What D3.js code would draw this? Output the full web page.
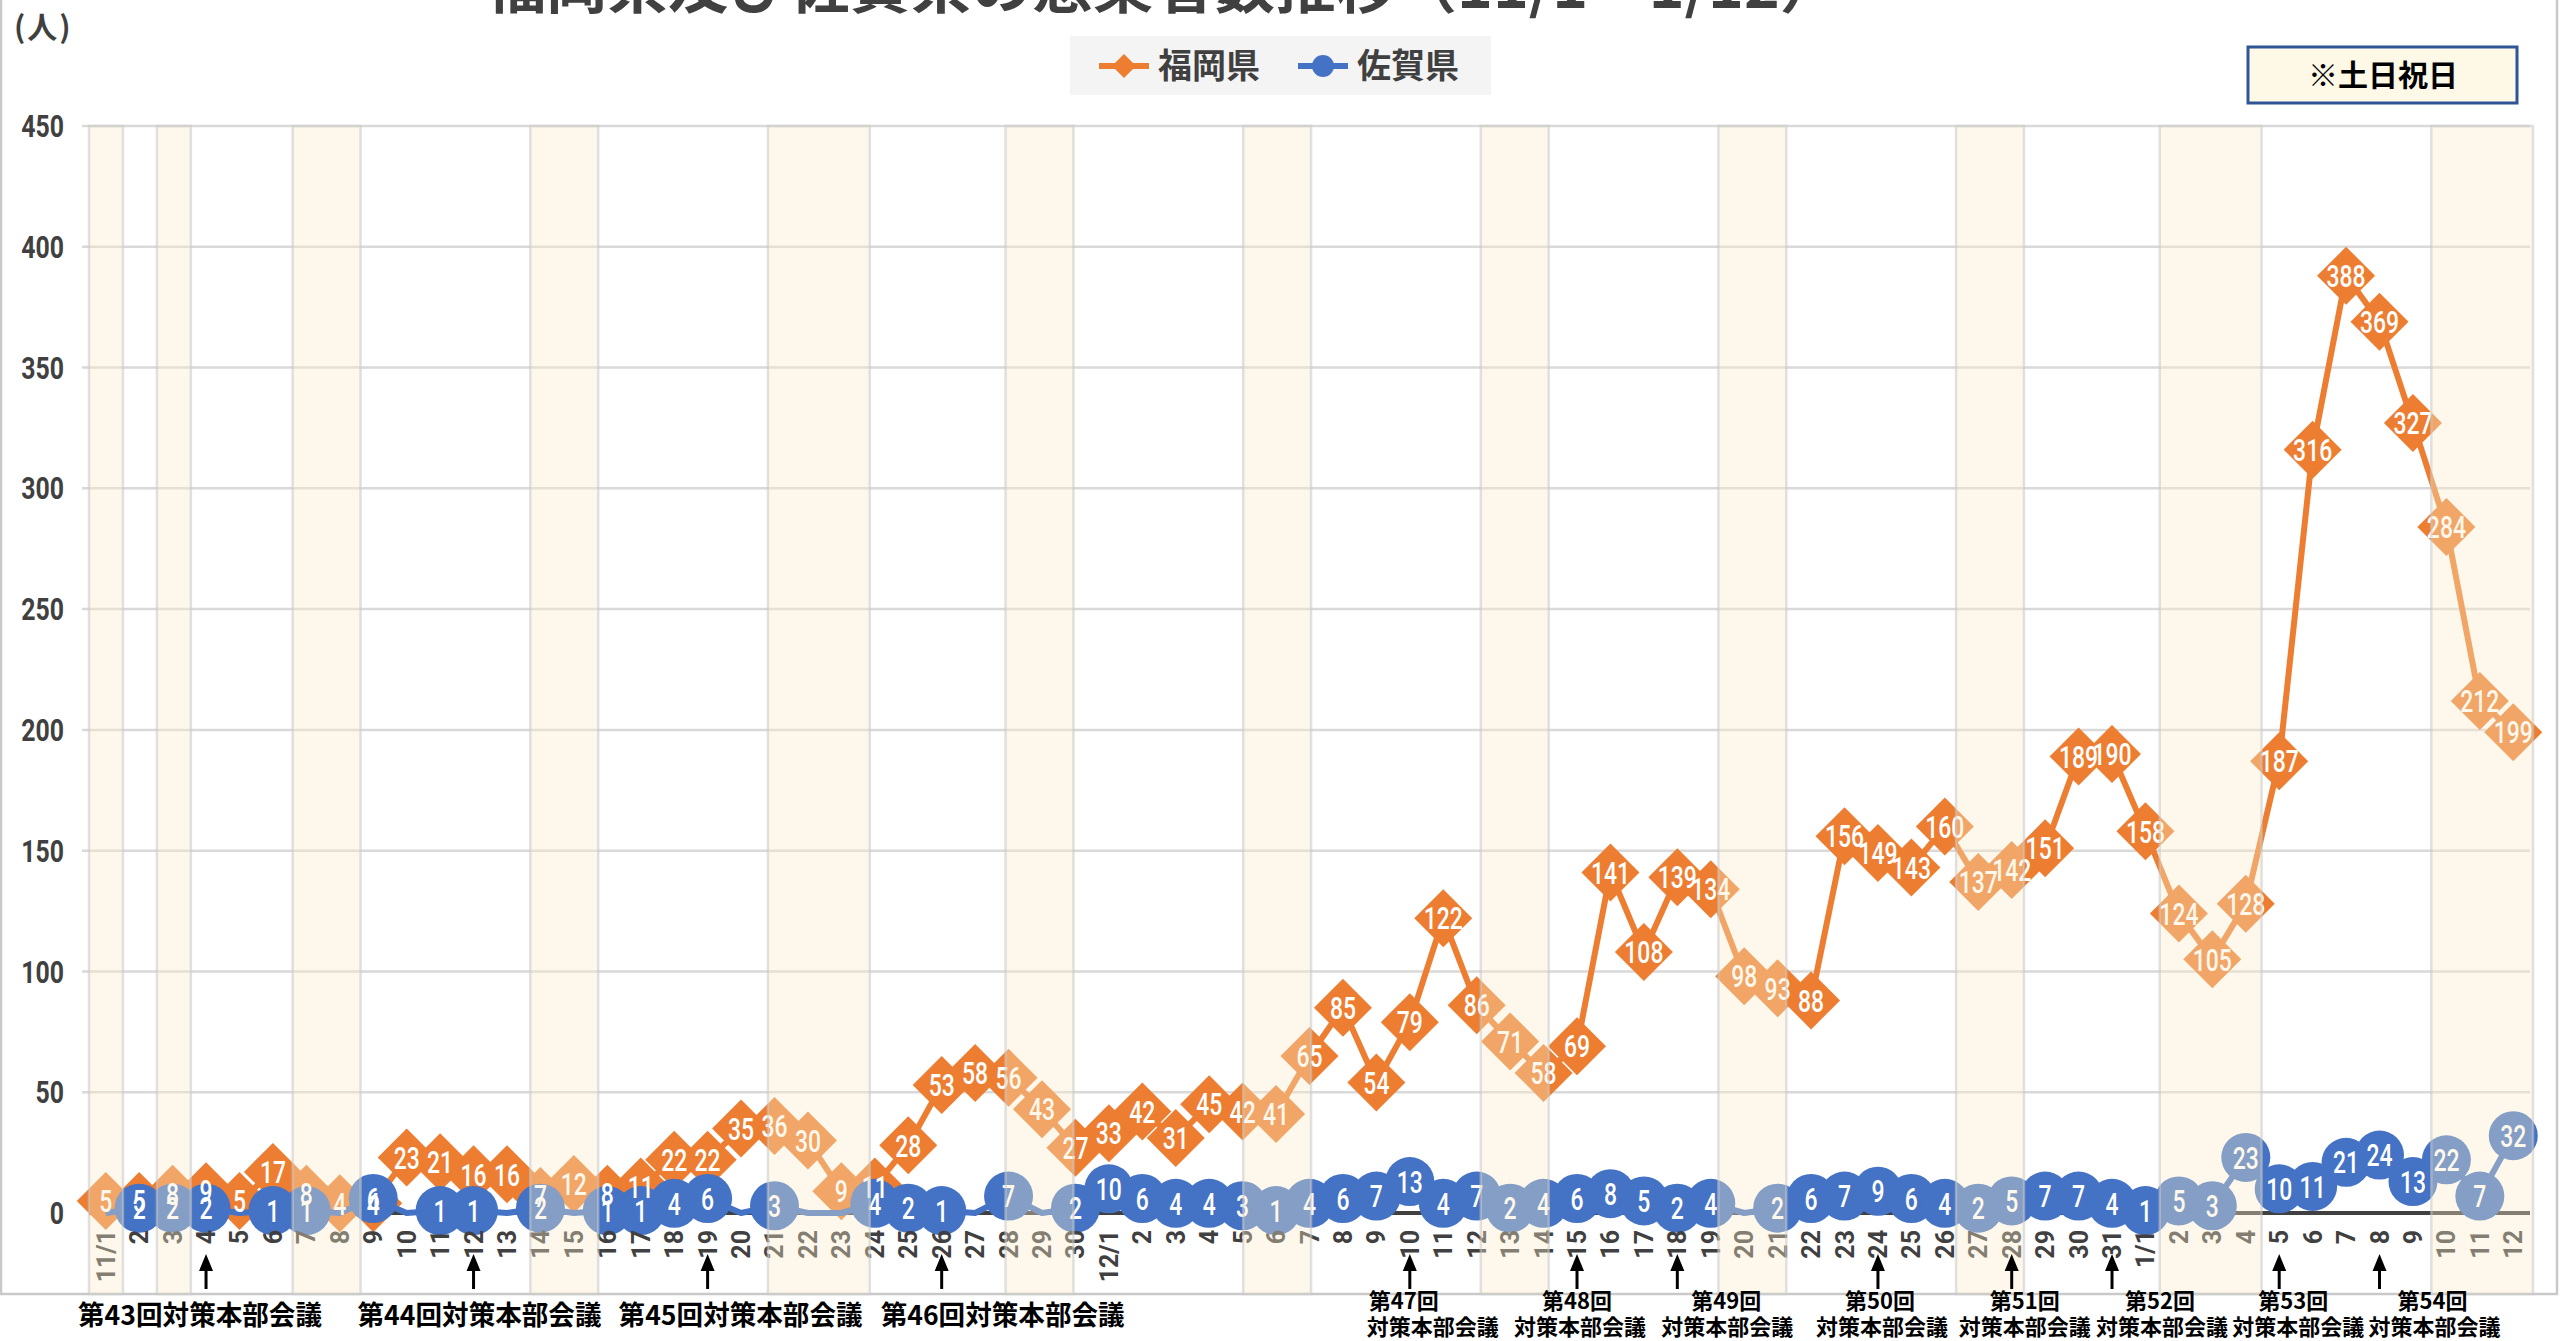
<!DOCTYPE html>
<html>
<head>
<meta charset="utf-8">
<script src="https://cdn.jsdelivr.net/npm/d3@7"></script>
<style>
  body { margin: 0; background: #fff; }
  svg { display: block; }
  text { font-family: "Noto Sans CJK JP", "Noto Sans", sans-serif; }
  .num { font-family: Roboto, "Noto Sans", sans-serif; }
</style>
</head>
<body>
<div id="chart"></div>
<script>
// 日付（カテゴリ）
const dates = [
  "11/1","11/2","11/3","11/4","11/5","11/6","11/7","11/8","11/9","11/10",
  "11/11","11/12","11/13","11/14","11/15","11/16","11/17","11/18","11/19","11/20",
  "11/21","11/22","11/23","11/24","11/25","11/26","11/27","11/28","11/29","11/30",
  "12/1","12/2","12/3","12/4","12/5","12/6","12/7","12/8","12/9","12/10",
  "12/11","12/12","12/13","12/14","12/15","12/16","12/17","12/18","12/19","12/20",
  "12/21","12/22","12/23","12/24","12/25","12/26","12/27","12/28","12/29","12/30","12/31",
  "1/1","1/2","1/3","1/4","1/5","1/6","1/7","1/8","1/9","1/10","1/11","1/12"
]
// 福岡県の感染者数
const fukuoka = [
  5,5,8,9,5,17,8,4,4,23, 21,16,16,7,12,8,11,22,22,35, 36,30,9,11,28,53,58,56,43,27,
  33,42,31,45,42,41,65,85,54,79, 122,86,71,58,69,141,108,139,134,98, 93,88,156,149,143,160,137,142,151,189,190,
  158,124,105,128,187,316,388,369,327,284,212,199
]
// 佐賀県の感染者数
const saga = [
  0,2,2,2,0,1,1,0,6,0, 1,1,0,2,0,1,1,4,6,0, 3,0,0,4,2,1,0,7,0,2,
  10,6,4,4,3,1,4,6,7,13, 4,7,2,4,6,8,5,2,4,0, 2,6,7,9,6,4,2,5,7,7,4,
  1,5,3,23,10,11,21,24,13,22,7,32
]
// 土日祝日
const holidays = ["11/1","11/3","11/7","11/8","11/14","11/15","11/21","11/22","11/23","11/28","11/29",
  "12/5","12/6","12/12","12/13","12/19","12/20","12/26","12/27","1/1","1/2","1/3","1/9","1/10","1/11"]
// 対策本部会議
const meetingNo = [43,44,45,46,47,48,49,50,51,52,53,54]
const meetingDate = ["11/4","11/12","11/19","11/26","12/10","12/15","12/18","12/24","12/28","12/31","1/5","1/8"]
const yTicks = [0,50,100,150,200,250,300,350,400,450]

// 寸法
const width = 2560
const height = 1341
const plot = { left: 89, right: 2530, top: 126, zero: 1213, bottom: 1294 }

// 会議ラベルのずらし（px）
const oneLineShift = { 43: -6, 44: 6, 45: 33, 46: 61 }
const twoLineShift = { 47: [-6, 23], 48: [0, 3], 49: [49, 50], 50: [2, 4], 51: [13, 13], 52: [48, 50], 53: [14, 19], 54: [53, 55] }

const orange = "#ED7D31"
const blue = "#4472C4"
const textGray = "#404040"

const svg = d3.select("#chart")
  .append("svg")
  .attr("width", width)
  .attr("height", height)

svg.append("rect").attr("width", width).attr("height", height).attr("fill", "#fff")

// 枠
svg.append("rect")
  .attr("x", 1).attr("y", -50)
  .attr("width", 2556).attr("height", plot.bottom + 50)
  .attr("fill", "none").attr("stroke", "#C9C9C9").attr("stroke-width", 2.5)

// スケール
const x = d3.scaleBand().domain(dates).range([plot.left, plot.right])
const xc = d => x(d) + x.bandwidth() / 2
const y = d3.scaleLinear().domain([0, 450]).range([plot.zero, plot.top])
// 網掛けは第2軸（少しだけ広い）
const xShade = d3.scaleBand().domain(dates).range([plot.left, plot.left + (plot.right - plot.left) * 1.0152])

// 目盛線
svg.append("g").selectAll("line")
  .data(yTicks.filter(t => t > 0))
  .join("line")
  .attr("x1", 82).attr("x2", plot.right)
  .attr("y1", d => y(d)).attr("y2", d => y(d))
  .attr("stroke", "#D9D9D9").attr("stroke-width", 2.5)

// 横軸
svg.append("line")
  .attr("x1", plot.left).attr("x2", plot.right)
  .attr("y1", y(0)).attr("y2", y(0))
  .attr("stroke", textGray).attr("stroke-width", 4)

// 福岡県
const fData = dates.map((d, i) => ({ d, v: fukuoka[i] }))
const sData = dates.map((d, i) => ({ d, v: saga[i] }))
const line = d3.line().x(p => xc(p.d)).y(p => y(p.v))

svg.append("path").datum(fData)
  .attr("d", line).attr("fill", "none")
  .attr("stroke", orange).attr("stroke-width", 6).attr("stroke-linejoin", "round")

const diamond = 29
svg.append("g").selectAll("path")
  .data(fData)
  .join("path")
  .attr("d", p => {
    const cx = xc(p.d), cy = y(p.v)
    return `M${cx},${cy - diamond}L${cx + diamond},${cy}L${cx},${cy + diamond}L${cx - diamond},${cy}Z`
  })
  .attr("fill", orange)

// 佐賀県
svg.append("path").datum(sData)
  .attr("d", line).attr("fill", "none")
  .attr("stroke", blue).attr("stroke-width", 6).attr("stroke-linejoin", "round")

svg.append("g").selectAll("circle")
  .data(sData.filter(p => p.v > 0))
  .join("circle")
  .attr("cx", p => xc(p.d)).attr("cy", p => y(p.v))
  .attr("r", 24.5)
  .attr("fill", blue)

// データラベル
svg.append("g").selectAll("text")
  .data(fData)
  .join("text")
  .attr("class", "num")
  .attr("transform", p => `translate(${xc(p.d)},${y(p.v)}) scale(0.74,1)`)
  .attr("text-anchor", "middle").attr("dy", "0.36em")
  .attr("font-size", 31).attr("font-weight", 500)
  .attr("fill", "#fff")
  .text(p => p.v)

svg.append("g").selectAll("text")
  .data(sData.filter(p => p.v > 0))
  .join("text")
  .attr("class", "num")
  .attr("transform", p => `translate(${xc(p.d)},${y(p.v)}) scale(0.74,1)`)
  .attr("text-anchor", "middle").attr("dy", "0.36em")
  .attr("font-size", 31).attr("font-weight", 500)
  .attr("fill", "#fff")
  .text(p => p.v)

// 日付ラベル（縦書き回転）
svg.append("g").selectAll("text")
  .data(dates)
  .join("text")
  .attr("class", "num")
  .attr("transform", d => `translate(${xc(d)},1230) rotate(-90)`)
  .attr("text-anchor", "end").attr("dy", "0.36em")
  .attr("font-size", 25).attr("font-weight", 700)
  .attr("fill", textGray)
  .text((d, i) => (i === 0 || d.endsWith("/1")) ? d : d.split("/")[1])

// 土日祝日の網掛け（連続日をまとめる）
const runs = []
dates.forEach((d, i) => {
  if (!holidays.includes(d)) return
  const last = runs[runs.length - 1]
  if (last && last.end === i - 1) last.end = i
  else runs.push({ start: i, end: i })
})
svg.append("g").selectAll("rect")
  .data(runs)
  .join("rect")
  .attr("x", r => Math.max(82, xShade(dates[r.start])))
  .attr("width", r => Math.min(plot.right + 3, xShade(dates[r.end]) + xShade.bandwidth()) - Math.max(82, xShade(dates[r.start])))
  .attr("y", plot.top)
  .attr("height", plot.bottom - plot.top)
  .attr("fill", "rgba(250,235,200,0.36)")
  .attr("stroke", "rgba(200,200,200,0.55)")
  .attr("stroke-width", 2.5)

// 縦軸ラベル
svg.append("g").selectAll("text")
  .data(yTicks)
  .join("text")
  .attr("class", "num")
  .attr("transform", d => `translate(64,${y(d)}) scale(0.8,1)`)
  .attr("text-anchor", "end").attr("dy", "0.36em")
  .attr("font-size", 31).attr("font-weight", 700)
  .attr("fill", textGray)
  .text(d => d)

svg.append("text")
  .attr("x", 14).attr("y", 38)
  .attr("font-size", 30).attr("font-weight", 700)
  .attr("letter-spacing", 2)
  .attr("fill", textGray)
  .text("(人)")

// タイトル（上が切れている）
svg.append("text")
  .attr("x", 1163).attr("y", 8)
  .attr("text-anchor", "middle")
  .attr("font-size", 58).attr("font-weight", 700)
  .attr("textLength", 1355).attr("lengthAdjust", "spacingAndGlyphs")
  .attr("fill", textGray)
  .text("福岡県及び佐賀県の感染者数推移（11/1～1/12）")

// 凡例
const legend = svg.append("g")
legend.append("rect")
  .attr("x", 1070).attr("y", 36).attr("width", 421).attr("height", 59)
  .attr("fill", "#F4F4F4")
const legendItems = [
  { name: "福岡県", color: orange, shape: "diamond", x: 1099 },
  { name: "佐賀県", color: blue, shape: "circle", x: 1298 }
]
legendItems.forEach(it => {
  legend.append("line")
    .attr("x1", it.x).attr("x2", it.x + 50).attr("y1", 66).attr("y2", 66)
    .attr("stroke", it.color).attr("stroke-width", 6)
  if (it.shape === "circle") {
    legend.append("circle").attr("cx", it.x + 25).attr("cy", 66).attr("r", 11).attr("fill", it.color)
  } else {
    legend.append("path")
      .attr("d", `M${it.x + 25},${54}L${it.x + 37},${66}L${it.x + 25},${78}L${it.x + 13},${66}Z`)
      .attr("fill", it.color)
  }
  legend.append("text")
    .attr("x", it.x + 59).attr("y", 66).attr("dy", "0.36em")
    .attr("font-size", 34).attr("font-weight", 700)
    .attr("fill", textGray)
    .text(it.name)
})

// ※土日祝日
svg.append("rect")
  .attr("x", 2248).attr("y", 47).attr("width", 269).attr("height", 56)
  .attr("fill", "#FEF8E7").attr("stroke", "#2F5597").attr("stroke-width", 3)
svg.append("text")
  .attr("x", 2383).attr("y", 75).attr("dy", "0.36em")
  .attr("text-anchor", "middle")
  .attr("font-size", 30).attr("font-weight", 700)
  .attr("fill", "#000")
  .text("※土日祝日")

// 対策本部会議の矢印とラベル
const notes = svg.append("g")
meetingNo.forEach((n, i) => {
  const ax = xc(meetingDate[i])
  notes.append("line")
    .attr("x1", ax).attr("x2", ax).attr("y1", 1289).attr("y2", 1268)
    .attr("stroke", "#000").attr("stroke-width", 3)
  notes.append("path")
    .attr("d", `M${ax},1254L${ax + 7},1271L${ax - 7},1271Z`)
    .attr("fill", "#000")
  if (oneLineShift[n] !== undefined) {
    notes.append("text")
      .attr("x", ax + oneLineShift[n]).attr("y", 1315).attr("dy", "0.36em")
      .attr("text-anchor", "middle")
      .attr("font-size", 27).attr("font-weight", 700)
      .attr("textLength", 244).attr("lengthAdjust", "spacingAndGlyphs")
      .attr("fill", "#000")
      .text(`第${n}回対策本部会議`)
  } else {
    const s = twoLineShift[n]
    notes.append("text")
      .attr("x", ax + s[0]).attr("y", 1301).attr("dy", "0.36em")
      .attr("text-anchor", "middle")
      .attr("font-size", 22).attr("font-weight", 700)
      .attr("fill", "#000")
      .text(`第${n}回`)
    notes.append("text")
      .attr("x", ax + s[1]).attr("y", 1327).attr("dy", "0.36em")
      .attr("text-anchor", "middle")
      .attr("font-size", 22).attr("font-weight", 700)
      .attr("fill", "#000")
      .text("対策本部会議")
  }
})
</script>
</body>
</html>
